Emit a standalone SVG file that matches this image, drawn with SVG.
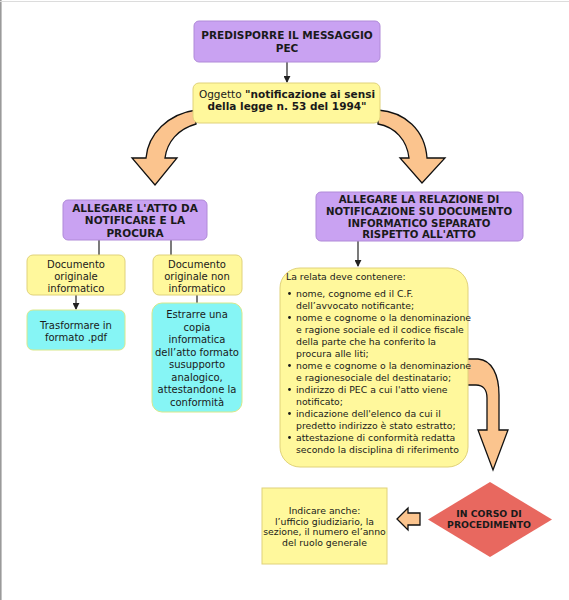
<svg xmlns="http://www.w3.org/2000/svg" width="569" height="600" viewBox="0 0 569 600">
<style>
text{font-family:"DejaVu Sans",Verdana,sans-serif;fill:#1a1a1a}
.t{font-size:10.5px;font-weight:bold;text-anchor:middle}
.n{font-size:10px;text-anchor:middle}
.s{font-size:9.3px}
.purple{fill:#c9a2f2;stroke:#b08ad8;stroke-width:1}
.yellow{fill:#fff89c;stroke:#e0d27a;stroke-width:1}
.cyan{fill:#86f5f5;stroke:#d8e88a;stroke-width:1}
.orange{fill:#fbc48e;stroke:#111;stroke-width:1.3;stroke-linejoin:miter}
.line{stroke:#222;stroke-width:1.2;fill:none}
</style>
<defs>
<marker id="ah" viewBox="0 0 8 8" refX="7" refY="4" markerWidth="7" markerHeight="7" markerUnits="userSpaceOnUse" orient="auto">
<path d="M0,0 L8,4 L0,8 Z" fill="#222"/>
</marker>
</defs>
<rect x="0" y="0" width="569" height="600" fill="#fff"/>
<line x1="0.8" y1="0" x2="0.8" y2="600" stroke="#9a9a9a" stroke-width="1.6"/>
<line x1="0" y1="1.5" x2="569" y2="1.5" stroke="#dcdcdc" stroke-width="1"/>

<g id="connectors">
<line class="line" x1="287" y1="62" x2="287" y2="82" marker-end="url(#ah)"/>
<path class="orange" d="M196,110 C168,114 148,134 146,158 L132,158 L155,185 L177,158 L165,158 C167,142 178,129 196,124 Z"/>
<path class="orange" d="M378,110 C405,112 425,130 427,158 L445,158 L422,183 L400,158 L409,158 C407,140 395,127 378,124 Z"/>
<line class="line" x1="99" y1="240" x2="99" y2="256"/>
<line class="line" x1="171" y1="240" x2="171" y2="256"/>
<line class="line" x1="76" y1="295" x2="76" y2="309" marker-end="url(#ah)"/>
<line class="line" x1="197" y1="295" x2="197" y2="304"/>
<line class="line" x1="358" y1="241" x2="358" y2="266" marker-end="url(#ah)"/>
<path class="orange" d="M460,359 L478,359 C492,360 499,375 499,395 L499,430 L508,430 L493,470 L478,430 L487,430 L487,398 C487,390 483,385 476,385 L460,385 Z"/>
<path class="orange" d="M397,519 L408,508 L408,513 L420,513 L420,525 L408,525 L408,530 Z"/>
</g>

<g id="n-predisporre">
<rect class="purple" x="194" y="21" width="186" height="41" rx="5"/>
<text class="t" x="287" y="39">PREDISPORRE IL MESSAGGIO</text>
<text class="t" x="287" y="52">PEC</text>
</g>

<g id="n-oggetto">
<rect class="yellow" x="193" y="83" width="187" height="40" rx="6"/>
<text x="287" y="98" style="font-size:10.5px;text-anchor:middle">Oggetto <tspan font-weight="bold">"notificazione ai sensi</tspan></text>
<text class="t" x="287" y="110">della legge n. 53 del 1994"</text>
</g>

<g id="n-allegare-atto">
<rect class="purple" x="63" y="200" width="144" height="40" rx="5"/>
<text class="t" x="135" y="212">ALLEGARE L'ATTO DA</text>
<text class="t" x="135" y="224">NOTIFICARE E LA</text>
<text class="t" x="135" y="237">PROCURA</text>
</g>

<g id="n-allegare-relazione">
<rect class="purple" x="316" y="192" width="207" height="49" rx="5"/>
<text class="t" x="419" y="203" style="font-size:10.2px">ALLEGARE LA RELAZIONE DI</text>
<text class="t" x="419" y="214.8" style="font-size:10.2px">NOTIFICAZIONE SU DOCUMENTO</text>
<text class="t" x="419" y="226.6" style="font-size:10.2px">INFORMATICO SEPARATO</text>
<text class="t" x="419" y="238.4" style="font-size:10.2px">RISPETTO ALL'ATTO</text>
</g>

<g id="n-doc-informatico">
<rect class="yellow" x="27" y="255" width="98" height="40" rx="6"/>
<text class="n" x="76" y="268">Documento</text>
<text class="n" x="76" y="280">originale</text>
<text class="n" x="76" y="292">informatico</text>
</g>

<g id="n-doc-non-informatico">
<rect class="yellow" x="153" y="255" width="89" height="40" rx="6"/>
<text class="n" x="197" y="268">Documento</text>
<text class="n" x="197" y="280">originale non</text>
<text class="n" x="197" y="292">informatico</text>
</g>

<g id="n-trasformare">
<rect class="cyan" x="27" y="310" width="98" height="40" rx="6"/>
<text class="n" x="76" y="329">Trasformare in</text>
<text class="n" x="76" y="341">formato .pdf</text>
</g>

<g id="n-estrarre">
<rect class="cyan" x="152" y="303" width="90" height="109" rx="10"/>
<text class="n" x="197" y="318">Estrarre una</text>
<text class="n" x="197" y="331">copia</text>
<text class="n" x="197" y="343">informatica</text>
<text class="n" x="197" y="356">dell’atto formato</text>
<text class="n" x="197" y="368">susupporto</text>
<text class="n" x="197" y="381">analogico,</text>
<text class="n" x="197" y="393">attestandone la</text>
<text class="n" x="197" y="406">conformità</text>
</g>

<g id="n-relata">
<rect class="yellow" x="280" y="268" width="188" height="199" rx="20"/>
<text class="s" x="286" y="280">La relata deve contenere:</text>
<g fill="#1a1a1a">
<circle cx="289.5" cy="293.5" r="1.4"/>
<circle cx="289.5" cy="317.5" r="1.4"/>
<circle cx="289.5" cy="365.5" r="1.4"/>
<circle cx="289.5" cy="389.5" r="1.4"/>
<circle cx="289.5" cy="413.5" r="1.4"/>
<circle cx="289.5" cy="437.5" r="1.4"/>
</g>
<text class="s" x="296" y="297">nome, cognome ed il C.F.</text>
<text class="s" x="296" y="309">dell’avvocato notificante;</text>
<text class="s" x="296" y="321">nome e cognome o la denominazione</text>
<text class="s" x="296" y="333">e ragione sociale ed il codice fiscale</text>
<text class="s" x="296" y="345">della parte che ha conferito la</text>
<text class="s" x="296" y="357">procura alle liti;</text>
<text class="s" x="296" y="369">nome e cognome o la denominazione</text>
<text class="s" x="296" y="381">e ragionesociale del destinatario;</text>
<text class="s" x="296" y="393">indirizzo di PEC a cui l'atto viene</text>
<text class="s" x="296" y="405">notificato;</text>
<text class="s" x="296" y="417">indicazione dell'elenco da cui il</text>
<text class="s" x="296" y="429">predetto indirizzo è stato estratto;</text>
<text class="s" x="296" y="441">attestazione di conformità redatta</text>
<text class="s" x="296" y="453">secondo la disciplina di riferimento</text>
</g>

<g id="n-in-corso">
<path d="M428,519.5 L490,482 L552,519.5 L490,557 Z" fill="#e8685f"/>
<text class="t" x="489" y="517" style="font-size:9.3px">IN CORSO DI</text>
<text class="t" x="489" y="528" style="font-size:9.3px">PROCEDIMENTO</text>
</g>

<g id="n-indicare">
<rect class="yellow" x="262" y="488" width="125" height="76"/>
<text class="s" x="324.5" y="514" text-anchor="middle">Indicare anche:</text>
<text class="s" x="324.5" y="525" text-anchor="middle">l’ufficio giudiziario, la</text>
<text class="s" x="324.5" y="535" text-anchor="middle">sezione, il numero el’anno</text>
<text class="s" x="324.5" y="545.5" text-anchor="middle">del ruolo generale</text>
</g>
</svg>
